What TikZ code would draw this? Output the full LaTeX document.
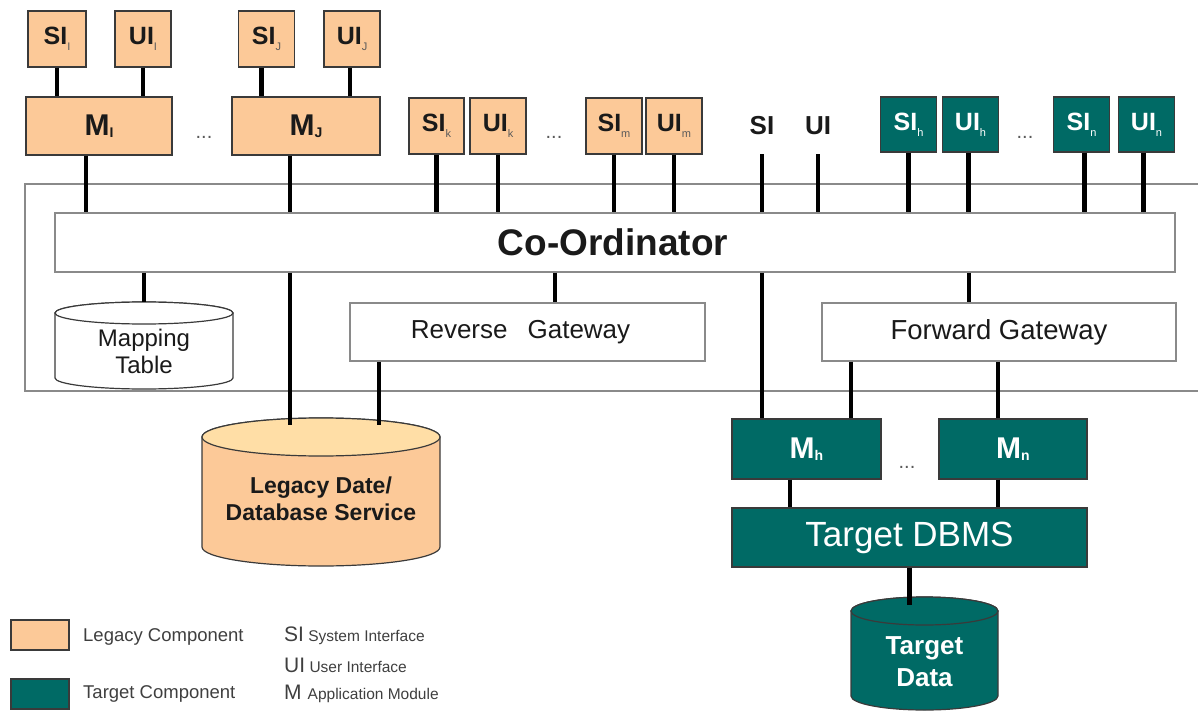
\documentclass[tikz,border=0pt]{standalone}
\usepackage{fontspec}
\setmainfont{Liberation Sans}
\usetikzlibrary{calc}

\definecolor{legacy}{HTML}{FCC998}
\definecolor{legacytop}{HTML}{FFDEA6}
\definecolor{target}{HTML}{006A65}
\definecolor{edge}{HTML}{3A3A3A}
\definecolor{framegray}{HTML}{8A8A8A}
\definecolor{ink}{HTML}{1A1A1A}
\definecolor{subgray}{HTML}{5A5A5A}

\newcommand\fs[1]{\fontsize{#1}{#1}\selectfont}
% interface label: bold name with a small subscript
\newcommand\lbl[2]{{\bfseries #1}\raisebox{-0.45ex}{\fs{11}\color{subgray}#2}}
\newcommand\tlbl[2]{{\bfseries #1}\raisebox{-0.45ex}{\fs{11}#2}}
% module label: bold M with bold subscript
\newcommand\mlbl[2]{{\bfseries\fs{30}M}\raisebox{-0.3ex}{\bfseries\fs{14}#2}}

% cylinder in screen coordinates: cx, top, bottom, rx, ry, body fill, top fill
\newcommand\drum[7]{%
  \path[draw=edge, line width=1.2pt, fill=#6]
    (#1-#4, #2+#5) -- (#1-#4, #3-#5)
    arc[start angle=180, end angle=0, x radius=#4, y radius=#5]
    -- (#1+#4, #2+#5)
    arc[start angle=360, end angle=180, x radius=#4, y radius=#5] -- cycle;
  \path[draw=edge, line width=1.2pt, fill=#7] (#1, #2+#5) ellipse[x radius=#4, y radius=#5];
}

\tikzset{
  lgc/.style={draw=edge, line width=1.2pt, fill=legacy, inner sep=0pt, text=ink},
  tgt/.style={draw=edge, line width=1.2pt, fill=target, inner sep=0pt, text=white},
  plainbox/.style={draw=framegray, line width=1.3pt, fill=white, inner sep=0pt, text=ink},
  iface/.style={minimum width=56pt, minimum height=56pt, font=\fs{25}},
  modbox/.style={minimum height=58pt},
  wire/.style={line width=4.6pt, black},
  thinwire/.style={line width=3.2pt, black},
  ghost/.style={inner sep=0pt, text=ink},
  dots/.style={anchor=base, text=subgray, font=\fs{20}},
  keytext/.style={ghost, anchor=west, text=subgray!70!black},
}

\begin{document}
\begin{tikzpicture}[x=1pt, y=-1pt]
\useasboundingbox (0,0) rectangle (1198,711);

% outer system frame (open to the right)
\draw[framegray, line width=1.5pt] (1230,184) -- (25,184) -- (25,391) -- (1230,391);

% ---- legacy modules with their interfaces
\node[lgc, iface, minimum width=58pt] (SIi) at (57,39) {\lbl{SI}{I}};
\node[lgc, iface] (UIi) at (143,39) {\lbl{UI}{I}};
\node[lgc, iface] (SIj) at (266.5,39) {\lbl{SI}{J}};
\node[lgc, iface] (UIj) at (352,39) {\lbl{UI}{J}};
\node[lgc, modbox, minimum width=146pt] (Mi) at (99,126) {\mlbl{M}{I}};
\node[lgc, modbox, minimum width=148pt] (Mj) at (306,126) {\mlbl{M}{J}};
\node[dots] (d1) at (204,139) {...};

% ---- stand-alone legacy interfaces
\node[lgc, iface, minimum width=55pt] (SIk) at (436.5,126) {\lbl{SI}{k}};
\node[lgc, iface] (UIk) at (498,126) {\lbl{UI}{k}};
\node[dots] (d2) at (554,139) {...};
\node[lgc, iface] (SIm) at (614,126) {\lbl{SI}{m}};
\node[lgc, iface] (UIm) at (674,126) {\lbl{UI}{m}};

% ---- generic interfaces
\node[ghost, minimum height=56pt, font=\bfseries\fs{26}] (SI) at (762,126) {SI};
\node[ghost, minimum height=56pt, font=\bfseries\fs{26}] (UI) at (818,126) {UI};

% ---- target interfaces
\node[tgt, iface, minimum height=55pt] (SIh) at (908.5,124.5) {\tlbl{SI}{h}};
\node[tgt, iface, minimum height=55pt] (UIh) at (970.5,124.5) {\tlbl{UI}{h}};
\node[dots] (d3) at (1025,139) {...};
\node[tgt, iface, minimum height=55pt] (SIn) at (1081.5,124.5) {\tlbl{SI}{n}};
\node[tgt, iface, minimum height=55pt] (UIn) at (1146.5,124.5) {\tlbl{UI}{n}};

% ---- co-ordinator and gateways
\node[plainbox, minimum width=1120pt, minimum height=59pt, font=\bfseries\fs{37}] (Coord) at (615,242.5) {\hspace{-4pt}Co-Ordinator};
\node[plainbox, minimum width=355pt, minimum height=58pt, font=\fs{26}] (RG) at (527.5,332) {\hspace{-14pt}Reverse\hspace{20pt}Gateway};
\node[plainbox, minimum width=354pt, minimum height=58pt, font=\fs{27.5}] (FG) at (999,332) {Forward Gateway};

% ---- data stores
\drum{144}{302}{389}{89}{11}{white}{white}
\node[ghost, minimum width=178pt, minimum height=87pt, font=\fs{24}, align=center, yshift=-6pt] (MT) at (144,345.5) {Mapping\\[3pt]Table};
\drum{321}{418}{566}{119}{19}{legacy}{legacytop}
\node[ghost, minimum width=238pt, minimum height=148pt, font=\bfseries\fs{23}, align=center, yshift=-7pt] (LDB) at (321,492) {Legacy Date/\\[4pt]Database Service};
\drum{924.5}{597}{710}{73.5}{14}{target}{target}
\node[inner sep=0pt, text=white, minimum width=147pt, minimum height=113pt, font=\bfseries\fs{26}, align=center, yshift=-8pt] (TD) at (924.5,653.5) {Target\\[6pt]Data};

% ---- target modules and DBMS
\node[tgt, minimum width=149pt, minimum height=60pt] (Mh) at (806.5,449) {\mlbl{M}{h}};
\node[tgt, minimum width=148pt, minimum height=60pt] (Mn) at (1013,449) {\mlbl{M}{n}};
\node[dots] (d4) at (907,468) {...};
\node[tgt, minimum width=355pt, minimum height=59pt, font=\fs{35}] (DBMS) at (909.5,537.5) {Target DBMS};

% ---- connectors
\draw[wire] (SIi.south) -- (SIi.south |- Mi.north);
\draw[wire] (UIi.south) -- (UIi.south |- Mi.north);
\draw[wire] ([xshift=-5pt]SIj.south) -- ([xshift=-5pt]SIj.south |- Mj.north);
\draw[wire] ([xshift=-2pt]UIj.south) -- ([xshift=-2pt]UIj.south |- Mj.north);
\draw[wire] ([xshift=-13pt]Mi.south) -- ([xshift=-13pt]Mi.south |- Coord.north);
\draw[wire] ([xshift=-16pt]Mj.south) -- ([xshift=-16pt]Mj.south |- Coord.north);
\draw[wire] (SIk.south) -- (SIk.south |- Coord.north);
\draw[wire] (UIk.south) -- (UIk.south |- Coord.north);
\draw[wire] (SIm.south) -- (SIm.south |- Coord.north);
\draw[wire] (UIm.south) -- (UIm.south |- Coord.north);
\draw[wire] (SI.south) -- (SI.south |- Coord.north);
\draw[wire] (UI.south) -- (UI.south |- Coord.north);
\draw[wire] (SIh.south) -- (SIh.south |- Coord.north);
\draw[wire] ([xshift=-2pt]UIh.south) -- ([xshift=-2pt]UIh.south |- Coord.north);
\draw[wire] ([xshift=3pt]SIn.south) -- ([xshift=3pt]SIn.south |- Coord.north);
\draw[wire] ([xshift=-3pt]UIn.south) -- ([xshift=-3pt]UIn.south |- Coord.north);

\draw[thinwire] (MT.north |- Coord.south) -- (144,302);
\draw[wire] ([xshift=-16pt]Mj.south |- Coord.south) -- ([xshift=-16pt]Mj.south |- LDB.north);
\draw[wire] ([xshift=27.5pt]RG.north |- Coord.south) -- ([xshift=27.5pt]RG.north);
\draw[wire] ([xshift=-148.5pt]RG.south) -- ([xshift=-148.5pt]RG.south |- LDB.north);
\draw[wire] (SI.south |- Coord.south) -- (SI.south |- Mh.north);
\draw[wire] ([xshift=-30pt]FG.north |- Coord.south) -- ([xshift=-30pt]FG.north);
\draw[wire] ([xshift=-148pt]FG.south) -- ([xshift=-148pt]FG.south |- Mh.north);
\draw[thinwire] ([xshift=-1pt]FG.south) -- ([xshift=-1pt]FG.south |- Mn.north);
\draw[wire] ([xshift=-16.5pt]Mh.south) -- ([xshift=-16.5pt]Mh.south |- DBMS.north);
\draw[thinwire] ([xshift=-15pt]Mn.south) -- ([xshift=-15pt]Mn.south |- DBMS.north);
\draw[wire] (DBMS.south) -- (DBMS.south |- TD.north);

% ---- legend
\node[lgc, minimum width=58pt, minimum height=30pt] (keyL) at (40,635) {};
\node[tgt, minimum width=58pt, minimum height=30pt] (keyT) at (40,694) {};
\node[keytext, font=\fs{18.5}] (keyLt) at (83,637) {Legacy Component};
\node[keytext, font=\fs{18.5}] (keyTt) at (83,694) {Target Component};
\node[keytext, font=\fs{15.5}] (kSI) at (284,636) {{\fs{21}SI} System Interface};
\node[keytext, font=\fs{15.5}] (kUI) at (284,665) {{\fs{21}UI} User Interface};
\node[keytext, font=\fs{15.5}] (kM) at (284,694) {{\fs{21}M}\hspace{6pt}Application Module};
\end{tikzpicture}
\end{document}
